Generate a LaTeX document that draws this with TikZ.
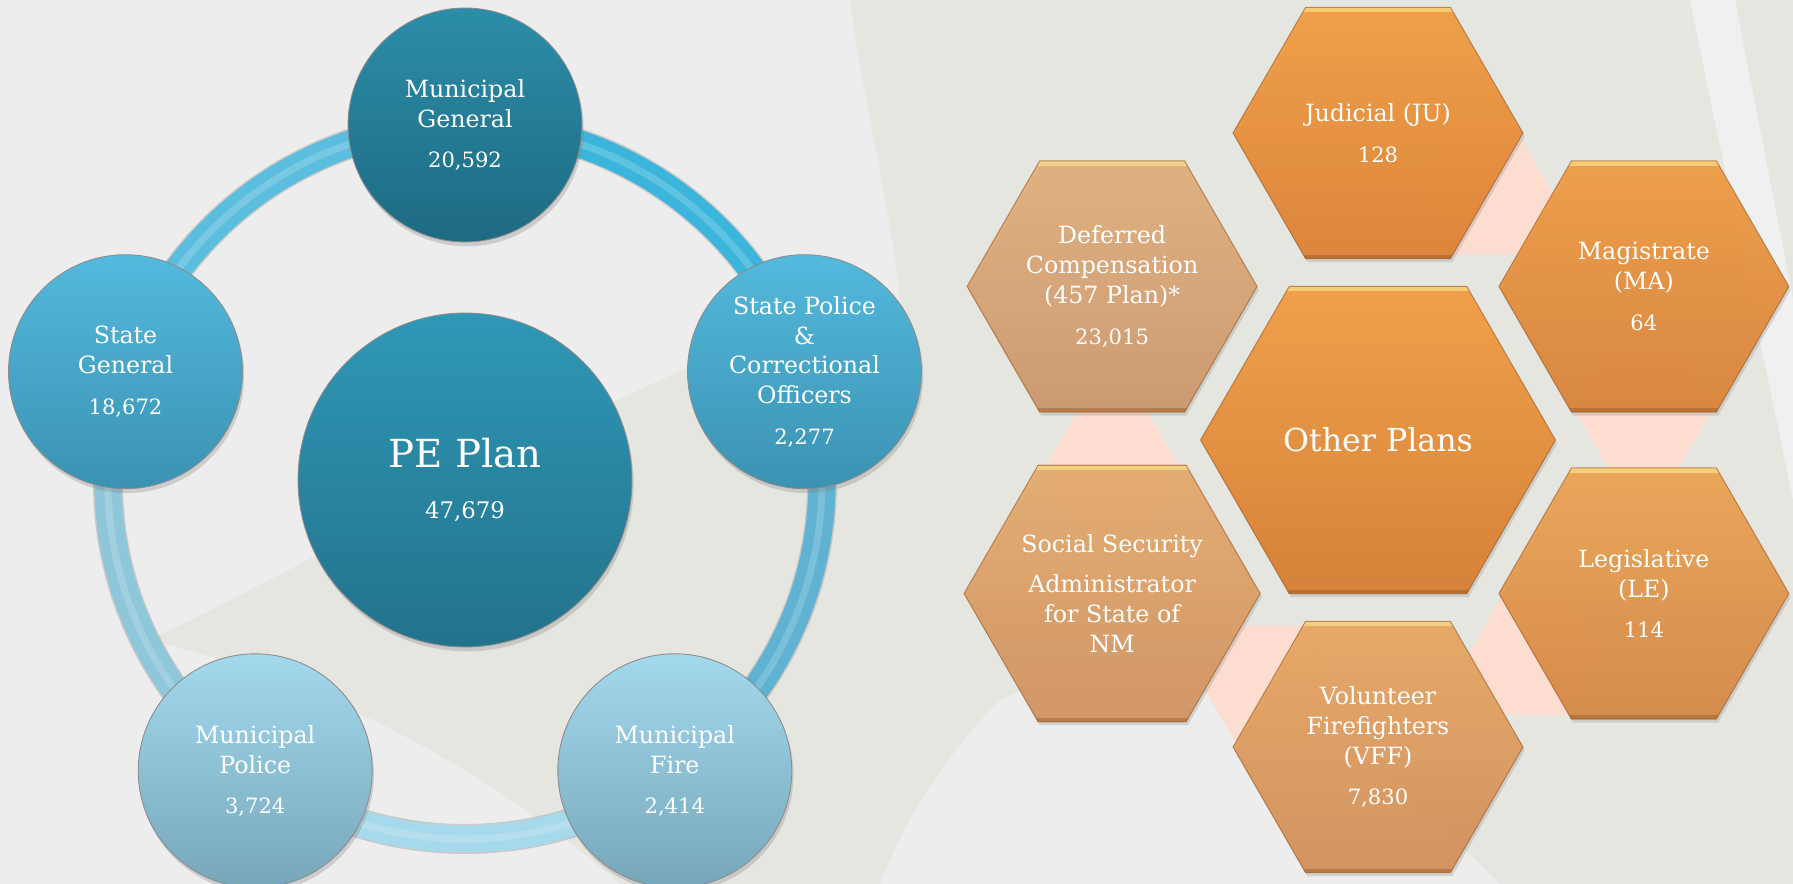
\documentclass[tikz,border=0pt]{standalone}
\usepackage{fontspec}
\setmainfont{DejaVu Serif}
\usetikzlibrary{shapes.geometric,shadows,backgrounds,calc}

\definecolor{bgbase}{HTML}{EDEDED}
\definecolor{bgdark}{HTML}{E6E6E1}
\definecolor{bglight}{HTML}{F0F0F0}
\definecolor{mgtop}{HTML}{2B8DA9}
\definecolor{mgbot}{HTML}{1E6A82}
\definecolor{petop}{HTML}{2F98B6}
\definecolor{pebot}{HTML}{23728C}
\definecolor{midtop}{HTML}{53B9DD}
\definecolor{midbot}{HTML}{3B92B2}
\definecolor{lowtop}{HTML}{A3D9ED}
\definecolor{lowbot}{HTML}{77A6BA}
\definecolor{ringA}{HTML}{5CBEDF}
\definecolor{ringB}{HTML}{8EC6DA}
\definecolor{ringC}{HTML}{A6D9EB}
\definecolor{ringD}{HTML}{3BB5DB}
\definecolor{ringE}{HTML}{5FB2D2}
\definecolor{jutop}{HTML}{F49B3B}
\definecolor{jubot}{HTML}{DE7E2E}
\definecolor{matop}{HTML}{F29A3E}
\definecolor{mabot}{HTML}{D98033}
\definecolor{letop}{HTML}{EEA24F}
\definecolor{lebot}{HTML}{D58640}
\definecolor{vftop}{HTML}{E9A65F}
\definecolor{vfbot}{HTML}{D38D56}
\definecolor{sstop}{HTML}{E6AA6A}
\definecolor{ssbot}{HTML}{D2915E}
\definecolor{dctop}{HTML}{E2AF7A}
\definecolor{dcbot}{HTML}{CD9569}
\definecolor{optop}{HTML}{F0A04A}
\definecolor{opbot}{HTML}{D6823A}
\definecolor{hexedge}{HTML}{9A5A25}
\definecolor{hexglow}{HTML}{F8E08A}
\definecolor{linkpink}{HTML}{FCDDD0}

\newcommand{\valfont}{\fontsize{12}{14}\selectfont}

\begin{document}
\begin{tikzpicture}[x=0.02cm, y=0.02cm,
    ball/.style={circle, inner sep=0pt, minimum size=4.68cm, align=center,
        text=white, font=\fontsize{13.5}{17}\selectfont,
        draw=black!45, line width=0.5pt,
        drop shadow={shadow xshift=1pt, shadow yshift=-2.5pt, opacity=0.3}},
    bigball/.style={ball, minimum size=6.68cm, font=\fontsize{22}{26}\selectfont},
    tube/.style={line width=0.54cm},
    tubeedge/.style={line width=0.6cm, draw=black!35, opacity=0.5},
    shine/.style={line width=0.14cm, draw=white, opacity=0.18},
    hexa/.style={regular polygon, regular polygon sides=6, inner sep=0pt,
        minimum size=5.8cm, align=center, text=white,
        font=\fontsize{13.5}{17}\selectfont,
        draw=hexedge, draw opacity=0.6, line width=0.6pt,
        fill opacity=0.9, text opacity=1,
        drop shadow={shadow xshift=1pt, shadow yshift=-2pt, opacity=0.25},
        path picture={
            \fill[hexglow, fill opacity=0.7] (path picture bounding box.north west)
                rectangle ([yshift=-0.1cm]path picture bounding box.north east);
            \fill[hexedge, fill opacity=0.45] (path picture bounding box.south west)
                rectangle ([yshift=0.08cm]path picture bounding box.south east);
        }},
    bighexa/.style={hexa, minimum size=7.1cm, fill opacity=1,
        font=\fontsize{18}{22}\selectfont},
    link/.style={regular polygon, regular polygon sides=6, inner sep=0pt,
        minimum size=2.68cm, fill=linkpink}
]

    \useasboundingbox (0,0) rectangle (1793,884);

    \coordinate (C0)  at (465,402);
    \coordinate (C1)  at (465,404);
    \coordinate (C2)  at (465,759);
    \coordinate (C3)  at (804.5,512.3);
    \coordinate (C4)  at (674.8,113.2);
    \coordinate (C5)  at (255.2,113.2);
    \coordinate (C6)  at (125.5,512.3);
    \coordinate (C7)  at (1378,444);
    \coordinate (C8)  at (1378,751);
    \coordinate (C9)  at (1643.9,597.5);
    \coordinate (C10) at (1643.9,290.5);
    \coordinate (C11) at (1378,137);
    \coordinate (C12) at (1112.1,290.5);
    \coordinate (C13) at (1112.1,597.5);

    % links behind the hexagons
    \foreach \a in {5.8,65.8,185.8,245.8,305.8}
        \node[link] at ($(C7)+(\a:267)$) {};

    \node[bigball, top color=petop, bottom color=pebot] (PE) at (C1)
        {PE Plan\\[3pt]{\fontsize{13}{15}\selectfont 47,679}};
    \node[ball, top color=mgtop, bottom color=mgbot] (MG) at (C2)
        {Municipal\\General\\[6pt]{\valfont 20,592}};
    \node[ball, top color=midtop, bottom color=midbot] (SP) at (C3)
        {State Police\\\&\\Correctional\\Officers\\[6pt]{\valfont 2,277}};
    \node[ball, top color=lowtop, bottom color=lowbot] (MF) at (C4)
        {Municipal\\Fire\\[6pt]{\valfont 2,414}};
    \node[ball, top color=lowtop, bottom color=lowbot] (MP) at (C5)
        {Municipal\\Police\\[6pt]{\valfont 3,724}};
    \node[ball, top color=midtop, bottom color=midbot] (SG) at (C6)
        {State\\General\\[6pt]{\valfont 18,672}};

    \node[hexa, top color=jutop, bottom color=jubot] (JU) at (C8)
        {Judicial (JU)\\[6pt]{\valfont 128}};
    \node[hexa, top color=matop, bottom color=mabot] (MA) at (C9)
        {Magistrate\\(MA)\\[6pt]{\valfont 64}};
    \node[hexa, top color=letop, bottom color=lebot] (LE) at (C10)
        {Legislative\\(LE)\\[6pt]{\valfont 114}};
    \node[hexa, top color=vftop, bottom color=vfbot] (VFF) at (C11)
        {Volunteer\\Firefighters\\(VFF)\\[6pt]{\valfont 7,830}};
    \node[hexa, top color=sstop, bottom color=ssbot] (SSA) at (C12)
        {Social Security\\[6pt]Administrator\\for State of\\NM};
    \node[hexa, top color=dctop, bottom color=dcbot] (DC) at (C13)
        {Deferred\\Compensation\\(457 Plan)*\\[6pt]{\valfont 23,015}};
    \node[bighexa, top color=optop, bottom color=opbot] (OP) at (C7) {Other Plans};

    \begin{scope}[on background layer]
        % backdrop
        \fill[bgbase] (0,0) rectangle (1793,884);
        \fill[bgdark] (150,244) .. controls (400,364) and (700,554) .. (900,584)
            .. controls (890,680) and (860,800) .. (850,884) -- (1793,884)
            -- (1793,0) -- (1500,0) .. controls (1300,200) and (1150,250) .. (1000,184)
            .. controls (940,124) and (900,54) .. (880,0) -- (620,0)
            .. controls (500,104) and (350,194) .. cycle;
        \fill[bglight] (1690,884) -- (1735,884) -- (1793,584) -- (1793,384) -- cycle;

        % ring between the circles
        \draw[tubeedge] (C0) circle[radius=357];
        \draw[tube, draw=ringE] (MF.center) arc[start angle=-54, end angle=18, radius=357];
        \draw[tube, draw=ringD] (SP.center) arc[start angle=18, end angle=90, radius=357];
        \draw[tube, draw=ringA] (MG.center) arc[start angle=90, end angle=162, radius=357];
        \draw[tube, draw=ringB] (SG.center) arc[start angle=162, end angle=234, radius=357];
        \draw[tube, draw=ringC] (MP.center) arc[start angle=234, end angle=306, radius=357];
        \draw[shine] (MF.center) arc[start angle=-54, end angle=306, radius=357];
    \end{scope}

\end{tikzpicture}
\end{document}
